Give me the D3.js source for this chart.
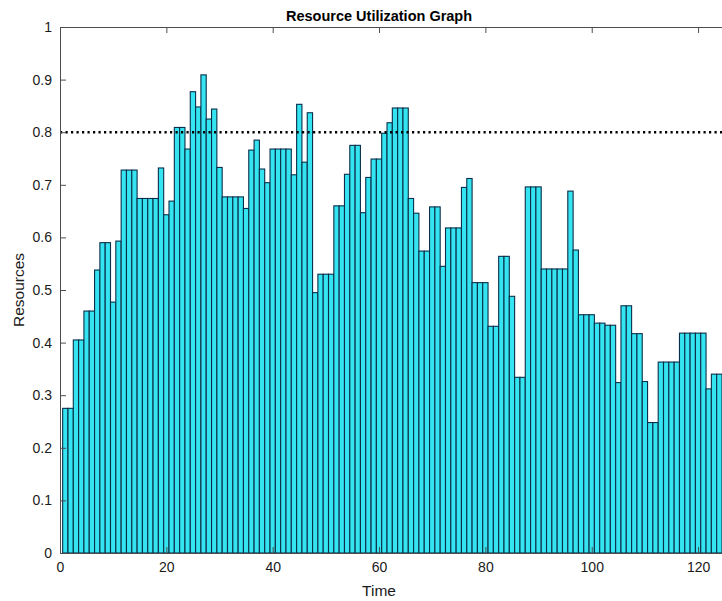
<!DOCTYPE html>
<html>
<head>
<meta charset="utf-8">
<script src="https://cdn.jsdelivr.net/npm/d3@7"></script>
<style>
  html, body { margin: 0; padding: 0; background: #fff; }
  svg { display: block; font-family: "Liberation Sans", Arial, sans-serif; }
</style>
</head>
<body>
<script>
// Resource usage per time step (time steps start at 1)
const resources = [
  0.275, 0.275, 0.405, 0.405, 0.460, 0.460, 0.538, 0.590, 0.590, 0.477,
  0.593, 0.728, 0.728, 0.728, 0.674, 0.674, 0.674, 0.674, 0.732, 0.643,
  0.669, 0.809, 0.809, 0.768, 0.877, 0.848, 0.909, 0.825, 0.844, 0.733,
  0.677, 0.677, 0.677, 0.677, 0.655, 0.766, 0.785, 0.730, 0.704, 0.768,
  0.768, 0.768, 0.768, 0.719, 0.853, 0.743, 0.837, 0.495, 0.530, 0.530,
  0.530, 0.660, 0.660, 0.720, 0.775, 0.775, 0.647, 0.714, 0.749, 0.749,
  0.798, 0.818, 0.846, 0.846, 0.846, 0.674, 0.646, 0.574, 0.574, 0.658,
  0.658, 0.545, 0.618, 0.618, 0.618, 0.695, 0.712, 0.514, 0.514, 0.514,
  0.431, 0.431, 0.564, 0.564, 0.488, 0.334, 0.334, 0.696, 0.696, 0.696,
  0.540, 0.540, 0.540, 0.540, 0.540, 0.688, 0.576, 0.453, 0.453, 0.453,
  0.437, 0.437, 0.433, 0.433, 0.324, 0.470, 0.470, 0.417, 0.417, 0.326,
  0.248, 0.248, 0.363, 0.363, 0.363, 0.363, 0.418, 0.418, 0.418, 0.418,
  0.418, 0.312, 0.340, 0.340
];
const times = resources.map((_, i) => i + 1);
const xTicks = [0, 20, 40, 60, 80, 100, 120];
const yTicks = [0, 0.1, 0.2, 0.3, 0.4, 0.5, 0.6, 0.7, 0.8, 0.9, 1];
const threshold = 0.8;

const W = 722, H = 601;
const plotLeft = 60, plotRight = 722, plotTop = 27, plotBottom = 553;

const svg = d3.select("body").append("svg").attr("width", W).attr("height", H);

const x = d3.scaleLinear().domain([0, 124.5]).range([plotLeft, plotRight]);
const y = d3.scaleLinear().domain([0, 1]).range([plotBottom, plotTop]);

// bars, one time unit wide, centred on each time step
svg.append("g").selectAll("rect").data(times).join("rect")
  .attr("x", t => x(t - 0.5))
  .attr("width", t => x(t + 0.5) - x(t - 0.5))
  .attr("y", (t, i) => y(resources[i]))
  .attr("height", (t, i) => y(0) - y(resources[i]))
  .attr("fill", "#34e4f0")
  .attr("stroke", "#0b2f4a")
  .attr("stroke-width", 1.1);

// threshold line
svg.append("line")
  .attr("x1", x(0)).attr("x2", plotRight)
  .attr("y1", y(threshold)).attr("y2", y(threshold))
  .attr("stroke", "#000")
  .attr("stroke-width", 2.4)
  .attr("stroke-dasharray", "2.2 3.3");

const axisColor = "#4d4d4d";

// bottom axis (ticks point inward)
const gx = svg.append("g").attr("transform", `translate(0,${plotBottom})`)
  .call(d3.axisBottom(x).tickValues(xTicks).tickFormat(d3.format("d")).tickSizeInner(-6).tickSizeOuter(0).tickPadding(9));
// top axis, ticks only
const gt = svg.append("g").attr("transform", `translate(0,${plotTop})`)
  .call(d3.axisTop(x).tickValues(xTicks).tickFormat("").tickSizeInner(-6).tickSizeOuter(0));
// left axis
const gy = svg.append("g").attr("transform", `translate(${plotLeft},0)`)
  .call(d3.axisLeft(y).tickValues(yTicks).tickFormat(d => d === 0 || d === 1 ? d3.format("d")(d) : d3.format(".1f")(d)).tickSizeInner(-6).tickSizeOuter(0).tickPadding(8));

[gx, gt, gy].forEach(g => {
  g.select(".domain").attr("stroke", axisColor).attr("stroke-width", 1);
  g.selectAll(".tick line").attr("stroke", axisColor);
  g.selectAll(".tick text").attr("fill", "#1a1a1a").attr("font-size", 14)
    .attr("font-family", "'Liberation Sans', Arial, sans-serif");
});

const mid = (x(0) + x(120)) / 2;

svg.append("text")
  .attr("x", mid).attr("y", 21)
  .attr("text-anchor", "middle")
  .attr("font-size", 14.5).attr("font-weight", "bold").attr("fill", "#000")
  .text("Resource Utilization Graph");

svg.append("text")
  .attr("x", mid).attr("y", 596)
  .attr("text-anchor", "middle")
  .attr("font-size", 15.5).attr("fill", "#1a1a1a")
  .text("Time");

svg.append("text")
  .attr("transform", `translate(24,${(plotTop + plotBottom) / 2}) rotate(-90)`)
  .attr("text-anchor", "middle")
  .attr("font-size", 15.5).attr("fill", "#1a1a1a")
  .text("Resources");
</script>
</body>
</html>
